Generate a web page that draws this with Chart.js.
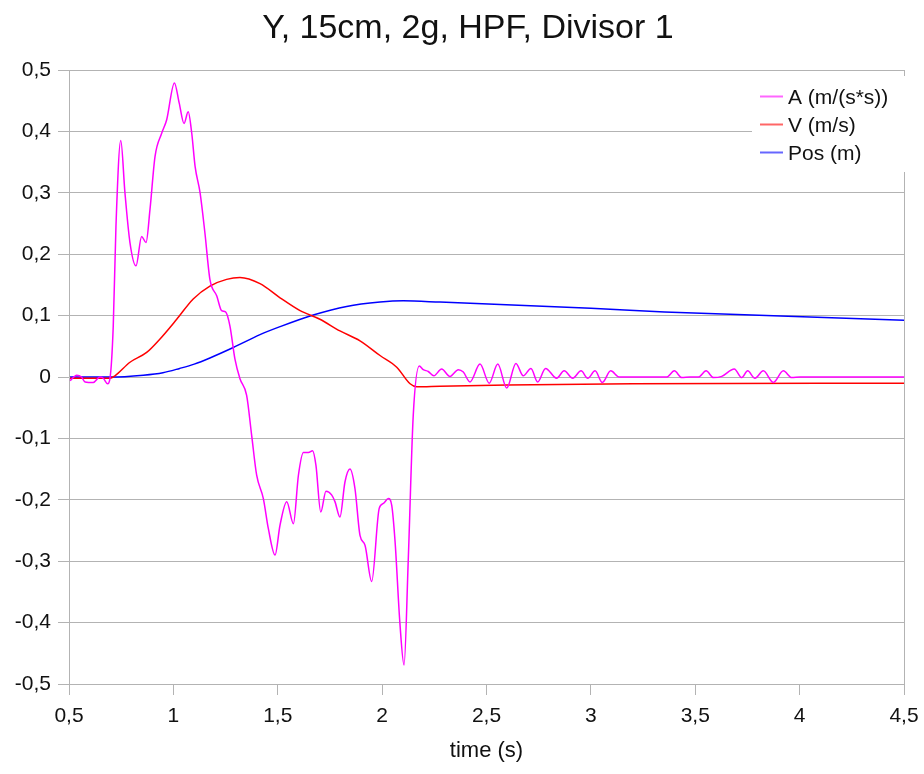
<!DOCTYPE html>
<html>
<head>
<meta charset="utf-8">
<script src="https://cdn.jsdelivr.net/npm/chart.js@4.4.1/dist/chart.umd.min.js"></script>
<style>
  body { margin: 0; background: #fff; }
  #grafico { display: block; }
</style>
</head>
<body>
<canvas id="grafico" width="924" height="774"></canvas>
<script>
// datos
const tA = [0.505, 0.537, 0.56, 0.577, 0.616, 0.648, 0.664, 0.685, 0.696, 0.712, 0.725, 0.748, 0.768, 0.792, 0.821, 0.848, 0.869, 0.888, 0.912, 0.944, 0.968, 1.005, 1.028, 1.051, 1.071, 1.088, 1.104, 1.128, 1.151, 1.175, 1.208, 1.231, 1.25, 1.271, 1.295, 1.319, 1.351, 1.375, 1.399, 1.431, 1.455, 1.487, 1.511, 1.543, 1.575, 1.599, 1.623, 1.647, 1.667, 1.683, 1.706, 1.731, 1.758, 1.774, 1.798, 1.822, 1.846, 1.87, 1.894, 1.918, 1.95, 1.986, 2.006, 2.03, 2.046, 2.062, 2.085, 2.105, 2.125, 2.149, 2.178, 2.197, 2.221, 2.248, 2.285, 2.325, 2.365, 2.389, 2.421, 2.469, 2.513, 2.554, 2.597, 2.641, 2.676, 2.713, 2.745, 2.783, 2.836, 2.872, 2.913, 2.953, 2.985, 3.02, 3.055, 3.095, 3.136, 3.363, 3.4, 3.435, 3.475, 3.515, 3.552, 3.587, 3.627, 3.687, 3.723, 3.751, 3.786, 3.826, 3.874, 3.922, 3.962, 4.002, 4.5];
const aVals = [-0.006, 0.003, 0.0, -0.008, -0.009, 0.0, -0.002, -0.011, -0.003, 0.083, 0.246, 0.385, 0.30, 0.219, 0.181, 0.229, 0.219, 0.273, 0.359, 0.397, 0.419, 0.479, 0.446, 0.413, 0.432, 0.397, 0.343, 0.30, 0.235, 0.159, 0.132, 0.108, 0.106, 0.083, 0.029, -0.003, -0.030, -0.095, -0.160, -0.198, -0.247, -0.290, -0.241, -0.203, -0.239, -0.160, -0.123, -0.123, -0.120, -0.144, -0.220, -0.186, -0.192, -0.203, -0.228, -0.171, -0.150, -0.182, -0.258, -0.274, -0.333, -0.214, -0.206, -0.198, -0.209, -0.268, -0.40, -0.469, -0.30, -0.063, 0.018, 0.012, 0.009, 0.002, 0.013, 0.001, 0.012, 0.008, -0.008, 0.021, -0.010, 0.021, -0.018, 0.022, 0.002, 0.014, -0.008, 0.014, -0.002, 0.010, -0.002, 0.010, -0.002, 0.010, -0.009, 0.010, 0.0, 0.0, 0.010, -0.001, 0.0, 0.0, 0.010, -0.001, 0.001, 0.013, -0.001, 0.010, -0.002, 0.010, -0.009, 0.010, -0.001, 0.0, 0.0];

const tV = [0.505, 0.696, 0.72, 0.792, 0.872, 0.936, 1.016, 1.095, 1.175, 1.255, 1.319, 1.415, 1.511, 1.607, 1.702, 1.798, 1.894, 1.99, 2.07, 2.134, 2.166, 2.277, 2.6, 3.2, 4.5];
const vVals = [-0.002, -0.002, 0.002, 0.024, 0.040, 0.062, 0.094, 0.127, 0.148, 0.159, 0.162, 0.152, 0.129, 0.108, 0.094, 0.075, 0.059, 0.035, 0.016, -0.011, -0.016, -0.015, -0.013, -0.011, -0.010];

const tPos = [0.505, 0.696, 0.856, 0.95, 1.03, 1.1, 1.175, 1.287, 1.415, 1.511, 1.67, 1.83, 1.99, 2.101, 2.277, 3.0, 3.353, 4.5];
const posVals = [0, 0, 0.003, 0.007, 0.014, 0.021, 0.031, 0.048, 0.069, 0.082, 0.101, 0.115, 0.122, 0.124, 0.122, 0.112, 0.106, 0.0925];

const xTickLabels = ['0,5', '1', '1,5', '2', '2,5', '3', '3,5', '4', '4,5'];
const yTickLabels = ['-0,5', '-0,4', '-0,3', '-0,2', '-0,1', '0', '0,1', '0,2', '0,3', '0,4', '0,5'];
const titulo = 'Y, 15cm, 2g, HPF, Divisor 1';
const nombres = ['A (m/(s*s))', 'V (m/s)', 'Pos (m)'];
const colores = ['#ff00ff', '#ff0000', '#0000ff'];

function puntos(ts, vs) {
    return ts.map((t, i) => ({ x: t, y: vs[i] }));
}

const gris = '#b3b3b3';
const fuente = 'Liberation Sans, Arial, sans-serif';

// titulo, borde derecho y leyenda dentro del area
const extras = {
    id: 'extras',
    afterDraw(chart) {
        const ctx = chart.ctx;
        const area = chart.chartArea;
        ctx.save();
        ctx.fillStyle = '#111';
        ctx.font = '34px ' + fuente;
        ctx.textAlign = 'center';
        ctx.textBaseline = 'middle';
        ctx.fillText(titulo, 468, 29);

        ctx.strokeStyle = gris;
        ctx.lineWidth = 1;
        ctx.beginPath();
        ctx.moveTo(Math.round(area.right) + 0.5, area.top);
        ctx.lineTo(Math.round(area.right) + 0.5, area.bottom);
        ctx.stroke();

        ctx.fillStyle = '#fff';
        ctx.fillRect(752, 76, 172, 96);
        ctx.font = '21px ' + fuente;
        ctx.textBaseline = 'middle';
        ctx.textAlign = 'left';
        const ys = [96, 124, 152];
        nombres.forEach((n, i) => {
            ctx.strokeStyle = colores[i];
            ctx.globalAlpha = 0.6;
            ctx.lineWidth = 2;
            ctx.beginPath();
            ctx.moveTo(760, ys[i] + 0.5);
            ctx.lineTo(783, ys[i] + 0.5);
            ctx.stroke();
            ctx.globalAlpha = 1;
            ctx.fillStyle = '#111';
            ctx.fillText(n, 788, ys[i] + 2);
        });
        ctx.restore();
    }
};

const ctx = document.getElementById('grafico').getContext('2d');
const chart = new Chart(ctx, {
    type: 'line',
    data: {
        datasets: [
            { label: nombres[0], data: puntos(tA, aVals), borderColor: colores[0], borderWidth: 1.5, pointRadius: 0, cubicInterpolationMode: 'monotone' },
            { label: nombres[1], data: puntos(tV, vVals), borderColor: colores[1], borderWidth: 1.5, pointRadius: 0, cubicInterpolationMode: 'monotone' },
            { label: nombres[2], data: puntos(tPos, posVals), borderColor: colores[2], borderWidth: 1.5, pointRadius: 0, cubicInterpolationMode: 'monotone' }
        ]
    },
    options: {
        responsive: false,
        animation: false,
        devicePixelRatio: 1,
        layout: { padding: { left: 0, right: 0, top: 70, bottom: 0 } },
        plugins: {
            legend: { display: false },
            tooltip: { enabled: false },
            title: { display: false }
        },
        scales: {
            x: {
                type: 'linear',
                min: 0.5,
                max: 4.5,
                afterFit(scale) {
                    scale.height = 90;
                    scale.paddingLeft = 0;
                    scale.paddingRight = 20;
                },
                ticks: {
                    stepSize: 0.5,
                    color: '#111',
                    font: { family: fuente, size: 21 },
                    padding: 9,
                    maxRotation: 0,
                    autoSkip: false,
                    callback: (v, i) => xTickLabels[i]
                },
                grid: { drawOnChartArea: false, color: gris, tickLength: 11 },
                border: { color: gris },
                title: {
                    display: true,
                    text: 'time (s)',
                    color: '#111',
                    font: { family: fuente, size: 22 },
                    padding: { top: 0, bottom: 10 }
                }
            },
            y: {
                min: -0.5,
                max: 0.5,
                afterFit(scale) { scale.width = 69; },
                ticks: {
                    stepSize: 0.1,
                    color: '#111',
                    font: { family: fuente, size: 21 },
                    padding: 7,
                    autoSkip: false,
                    callback: (v, i) => yTickLabels[i]
                },
                grid: { color: gris, tickLength: 11 },
                border: { color: gris }
            }
        }
    },
    plugins: [extras]
});
</script>
</body>
</html>
